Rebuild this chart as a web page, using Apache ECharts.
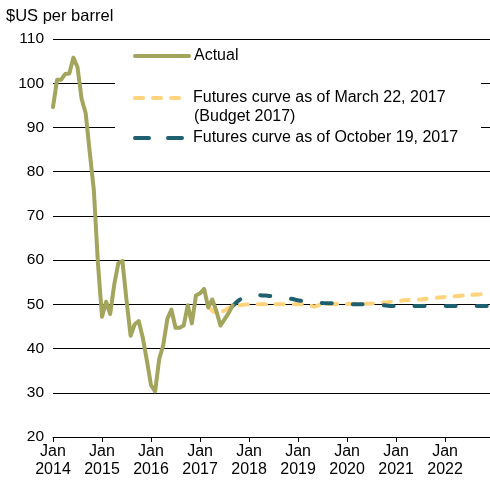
<!DOCTYPE html>
<html>
<head>
<meta charset="utf-8">
<script src="https://cdn.jsdelivr.net/npm/echarts@6/dist/echarts.min.js"></script>
<style>
html, body { margin: 0; padding: 0; background: #fff; }
#main { width: 490px; height: 486px; }
</style>
</head>
<body>
<div id="main"></div>
<script>
// monthly index: 0 = Jan 2014
var tickYears = ['2014', '2015', '2016', '2017', '2018', '2019', '2020', '2021', '2022'];

// Actual, Jan 2014 - Sep 2017
var actualValues = [
  94.6, 100.8, 100.8, 102.1, 102.2, 105.8, 103.6, 96.5, 93.2, 84.4, 75.8, 59.3,
  47.2, 50.6, 47.8, 54.5, 59.3, 59.8, 50.9, 42.9, 45.5, 46.2, 42.4, 37.2,
  31.7, 30.3, 37.6, 40.8, 46.7, 48.8, 44.7, 44.7, 45.2, 49.8, 45.7, 52.0,
  52.5, 53.5, 49.3, 51.1, 48.5, 45.2, 46.6, 48.0, 49.8
];

// Futures curve as of March 22, 2017
var marchMonths = [38, 40, 42, 44, 46, 48, 54, 60, 62, 64, 66, 72, 78, 82, 86, 90, 94, 98, 102, 107];
var marchValues = [49.6, 48.0, 48.6, 49.6, 49.8, 50.0, 50.0, 50.0, 50.0, 49.5, 50.1, 50.1, 50.2, 50.5, 50.9, 51.1, 51.5, 51.8, 52.1, 52.4];

// Futures curve as of October 19, 2017
var octMonths = [44, 45, 46, 47, 50, 53, 55, 58, 62, 66, 70, 74, 79, 82, 85, 107];
var octValues = [49.6, 50.5, 51.2, 51.7, 52.1, 51.9, 51.8, 51.3, 50.6, 50.3, 50.2, 50.0, 50.0, 49.7, 49.6, 49.6];

var chart = echarts.init(document.getElementById('main'));

function pairs(xs, ys) {
  return xs.map(function (x, i) { return [x, ys[i]]; });
}

var font = 'Liberation Sans, Arial, sans-serif';
var nameActual = 'Actual';
var nameMarch = 'Futures curve as of March 22, 2017';
var nameOct = 'Futures curve as of October 19, 2017';

var option = {
  backgroundColor: '#fff',
  animation: false,
  textStyle: { fontFamily: font },
  title: {
    text: '$US per barrel',
    left: 1,
    top: 3,
    textStyle: { fontSize: 16.5, fontWeight: 'normal', color: '#000', fontFamily: font }
  },
  grid: { left: 53, right: 0, top: 39, bottom: 49 },
  graphic: [
    // white box behind the legend, hides the gridlines
    { type: 'rect', z: 1, shape: { x: 115, y: 45, width: 366, height: 108 }, style: { fill: '#fff' } },
    { type: 'text', z: 5, left: 194, top: 109, style: { text: '(Budget 2017)', fontSize: 16, fontFamily: font, fill: '#000' } }
  ],
  legend: [
    {
      data: [{ name: nameActual }],
      left: 133, top: 48, padding: 0,
      itemWidth: 54, itemHeight: 14,
      itemStyle: { opacity: 0 },
      lineStyle: { width: 4, cap: 'round' },
      textStyle: { fontSize: 16, color: '#000' }
    },
    {
      data: [{ name: nameMarch, lineStyle: { width: 4, type: [8, 10], cap: 'round' } }],
      left: 133, top: 90, padding: 0,
      itemWidth: 50, itemHeight: 14,
      itemStyle: { opacity: 0 },
      lineStyle: { width: 4, cap: 'round' },
      textStyle: { fontSize: 16, color: '#000', padding: [0, 0, 0, 3] }
    },
    {
      data: [{ name: nameOct, lineStyle: { width: 4, type: [14, 19], cap: 'round' } }],
      left: 133, top: 130, padding: 0,
      itemWidth: 50, itemHeight: 14,
      itemStyle: { opacity: 0 },
      lineStyle: { width: 4, cap: 'round' },
      textStyle: { fontSize: 16, color: '#000', padding: [0, 0, 0, 3] }
    }
  ],
  xAxis: {
    type: 'value',
    min: 0,
    max: 107,
    interval: 12,
    axisLine: { show: true, lineStyle: { color: '#000', width: 1 } },
    axisTick: { show: true, length: 5, lineStyle: { color: '#000' } },
    splitLine: { show: false },
    axisLabel: {
      fontSize: 16,
      color: '#000',
      lineHeight: 18,
      margin: 6,
      showMaxLabel: false,
      formatter: function (v) {
        if (v % 12 !== 0) return '';
        return 'Jan\n' + tickYears[v / 12];
      }
    }
  },
  yAxis: {
    type: 'value',
    min: 20,
    max: 110,
    interval: 10,
    axisLine: { show: false },
    axisTick: { show: false },
    splitLine: { lineStyle: { color: '#000', width: 1 } },
    axisLabel: { fontSize: 15.5, color: '#000', margin: 9 }
  },
  series: [
    {
      name: nameActual,
      type: 'line',
      data: actualValues.map(function (v, i) { return [i, v]; }),
      symbol: 'circle',
      symbolSize: 0,
      showSymbol: false,
      z: 4,
      itemStyle: { color: '#a3a55d' },
      lineStyle: { color: '#a3a55d', width: 4, cap: 'round', join: 'round' }
    },
    {
      name: nameMarch,
      type: 'line',
      data: pairs(marchMonths, marchValues),
      symbol: 'circle',
      symbolSize: 0,
      showSymbol: false,
      smooth: 0.3,
      z: 2,
      itemStyle: { color: '#ffd47c' },
      lineStyle: { color: '#ffd47c', width: 4, type: [8, 10], cap: 'round' }
    },
    {
      name: nameOct,
      type: 'line',
      data: pairs(octMonths, octValues),
      symbol: 'circle',
      symbolSize: 0,
      showSymbol: false,
      smooth: 0.3,
      z: 3,
      itemStyle: { color: '#1f6070' },
      lineStyle: { color: '#1f6070', width: 4, type: [10, 21], cap: 'round' }
    }
  ]
};

chart.setOption(option);
</script>
</body>
</html>
